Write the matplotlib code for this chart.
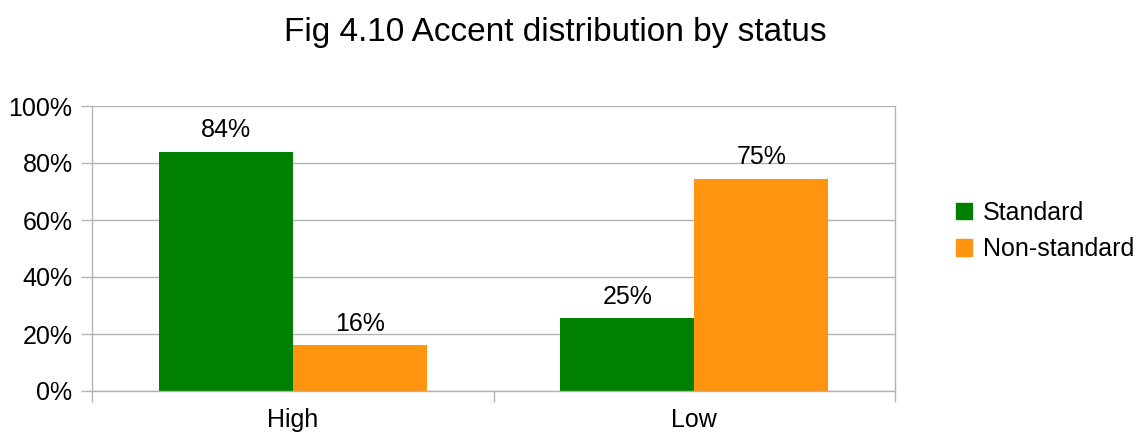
import matplotlib
matplotlib.use("Agg")
import matplotlib.pyplot as plt
import numpy as np
from matplotlib.patches import Patch

categories = ["High", "Low"]
series_names = ["Standard", "Non-standard"]
standard = [84, 25.5]
non_standard = [16, 74.5]
standard_labels = ["84%", "25%"]
non_standard_labels = ["16%", "75%"]
yticks = [0, 20, 40, 60, 80, 100]
ytick_labels = ["0%", "20%", "40%", "60%", "80%", "100%"]
title = "Fig 4.10 Accent distribution by status"

colors = ["#008000", "#ff950e"]
grid_col = "#b3b3b3"

plt.rcParams['font.family'] = ['Liberation Sans', 'DejaVu Sans']

fig = plt.figure(figsize=(11.34, 4.41), dpi=100)
ax = fig.add_axes([92/1134, 1-391/441, (895-92)/1134, (391-106)/441])

x = np.arange(len(categories))
w = 0.334
b1 = ax.bar(x - w/2, standard, w, color=colors[0])
b2 = ax.bar(x + w/2, non_standard, w, color=colors[1])

for bars, labs in ((b1, standard_labels), (b2, non_standard_labels)):
    for r, lab in zip(bars, labs):
        ax.annotate(lab, (r.get_x() + r.get_width()/2, r.get_height()),
                    xytext=(0, 7), textcoords="offset points",
                    ha="center", va="bottom", fontsize=18)

ax.set_xlim(-0.5, 1.5)
ax.set_ylim(0, 100)
ax.set_yticks(yticks)
ax.set_yticklabels(ytick_labels, fontsize=18)
ax.set_xticks([-0.5, 0.5, 1.5])
ax.set_xticklabels([])
ax.set_xticks(x, minor=True)
ax.set_xticklabels(categories, minor=True, fontsize=18)
ax.tick_params(axis='x', which='minor', length=0, pad=12)
ax.tick_params(axis='x', which='major', length=8, width=1, color=grid_col, direction='out')
ax.tick_params(axis='y', length=8, width=1, color=grid_col, pad=6)
ax.yaxis.grid(True, color=grid_col, linewidth=1)
ax.set_axisbelow(True)
for s in ax.spines.values():
    s.set_color(grid_col)
    s.set_linewidth(1)
ax.spines['top'].set_visible(False)

fig.text(555/1134, 1-33/441, title, ha="center", va="center", fontsize=24)

handles = [Patch(facecolor=c, edgecolor=c) for c in colors]
fig.legend(handles, series_names, loc="center left", bbox_to_anchor=(933/1134, 1-231/441),
           frameon=False, fontsize=18, handlelength=0.64, handleheight=0.64,
           handletextpad=0.45, labelspacing=0.5)

fig.savefig("out.png", dpi=100)
